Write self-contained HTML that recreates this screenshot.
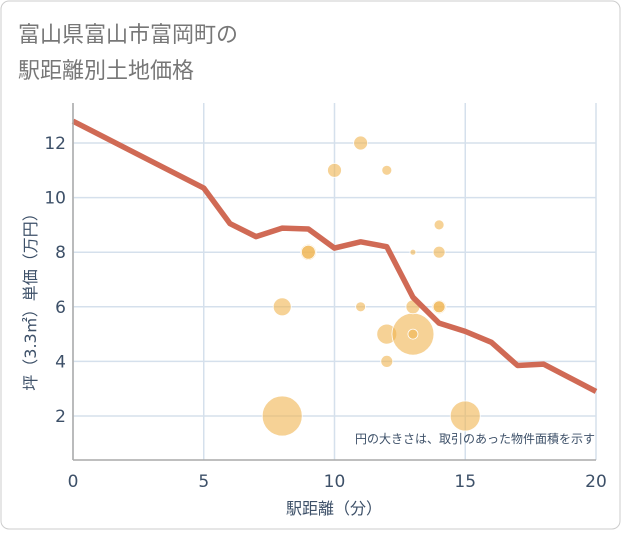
<!DOCTYPE html>
<html><head><meta charset="utf-8"><style>
body{margin:0;background:#fff;}
svg text{font-family:"DejaVu Sans","Noto Sans CJK JP",sans-serif;}
</style></head><body>
<svg width="621" height="530" xmlns="http://www.w3.org/2000/svg">
<rect x="1" y="1" width="619" height="528" rx="8" fill="#fff" stroke="#cccccc"/>
<text x="18" y="42" font-size="22" fill="#777">富山県富山市富岡町の</text>
<text x="18" y="78" font-size="22" fill="#777">駅距離別土地価格</text>
<g id="grid"></g>
<g id="bubbles"></g>
<g id="line"></g>
<g id="axes"></g>
<text x="595" y="443" font-size="12" fill="#3d5068" text-anchor="end">円の大きさは、取引のあった物件面積を示す</text>
<text x="334" y="514" font-size="16" fill="#3d5068" text-anchor="middle">駅距離（分）</text>
<text transform="translate(36,298) rotate(-90)" font-size="16" fill="#3d5068" text-anchor="middle">坪（3.3㎡）単価（万円）</text>
</svg>
<script>
const xTicks=[0,5,10,15,20];
const yTicks=[2,4,6,8,10,12];
const lineX=[0,5,6,7,8,9,10,11,12,13,14,15,16,17,18,19,20];
const lineY=[12.8,10.35,9.05,8.57,8.88,8.85,8.15,8.38,8.2,6.35,5.4,5.1,4.7,3.85,3.9,3.4,2.9];
const bubX=[8,15,8,9,9,10,11,12,11,12,12,13,13,13,13,14,14,14,14];
const bubY=[2,2,6,8,8,11,12,11,6,5,4,5,5,6,8,9,8,6,6];
const bubR=[20,15,9,8,7,7,7,5,5,10,6,21,5,7,3,5,6,7,6];
const NS="http://www.w3.org/2000/svg";
const L=73,R=596,T=103,B=460;
const xs=v=>L+(R-L)*v/20;
const ys=v=>470.6-27.3*v;
function mk(tag,attrs,parent){const e=document.createElementNS(NS,tag);for(const k in attrs)e.setAttribute(k,attrs[k]);document.getElementById(parent).appendChild(e);return e;}
xTicks.forEach(t=>{
 const g=mk('line',{x1:xs(t),x2:xs(t),y1:T,y2:B,stroke:'#d5e0ec','stroke-width':1.5},'grid');
 
 
 const tx=mk('text',{x:xs(t),y:487,'font-size':17,fill:'#3d5068','text-anchor':'middle'},'axes');
 tx.textContent=t;
 
 
});
yTicks.forEach(t=>{
 const g=mk('line',{x1:L,x2:R,y1:ys(t),y2:ys(t),stroke:'#d5e0ec','stroke-width':1.5},'grid');
 
 
 const tx=mk('text',{x:66,y:ys(t)+6,'font-size':17,fill:'#3d5068','text-anchor':'end'},'axes');
 tx.textContent=t;
 
 
});
const ax=mk('line',{x1:L,x2:R,y1:B,y2:B,stroke:'#aaa','stroke-width':1.5},'axes');


const ay=mk('line',{x1:L,x2:L,y1:T,y2:B,stroke:'#aaa','stroke-width':1.5},'axes');


bubX.forEach((x,i)=>{
 const c=mk('circle',{cx:xs(x),cy:ys(bubY[i]),r:bubR[i],fill:'#f0b450','fill-opacity':0.6,stroke:'#fff','stroke-width':0.8},'bubbles');
 
 
});
const p=mk('polyline',{points:lineX.map((x,i)=>xs(x)+','+ys(lineY[i])).join(' '),fill:'none',stroke:'#d06a55','stroke-width':5.5,'stroke-linejoin':'round'},'line');


</script>
</body></html>
